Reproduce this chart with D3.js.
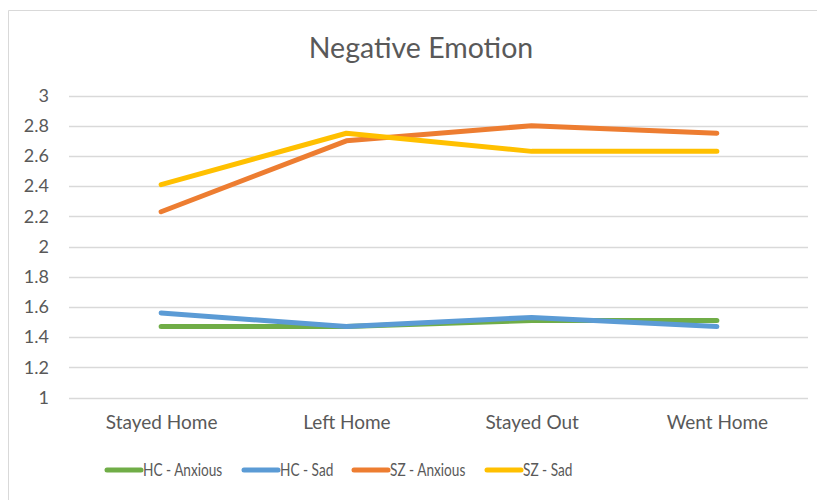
<!DOCTYPE html>
<html><head><meta charset="utf-8">
<script src="https://cdn.jsdelivr.net/npm/d3@7"></script>
<style>body{margin:0;background:#fff}svg{display:block}text{font-family:Lato,"Open Sans",sans-serif;fill:#595959}</style>
</head><body><svg id="c" width="817" height="500"></svg>
<script>
const categories = ["Stayed Home","Left Home","Stayed Out","Went Home"];
const seriesNames = ["HC - Anxious","HC - Sad","SZ - Anxious","SZ - Sad"];
const seriesColors = ["#70ad47","#5b9bd5","#ed7d31","#ffc000"];
const hcAnxious = [1.47,1.47,1.51,1.51];
const hcSad = [1.56,1.47,1.53,1.47];
const szAnxious = [2.23,2.70,2.80,2.75];
const szSad = [2.41,2.75,2.63,2.63];
const yTicks = [1,1.2,1.4,1.6,1.8,2,2.2,2.4,2.6,2.8,3];
const title = "Negative Emotion";

const seriesData = [hcAnxious,hcSad,szAnxious,szSad];
const svg = d3.select("#c");
svg.append("path").attr("d","M8.5,500V10.5H817").attr("fill","none").attr("stroke","#d9d9d9").attr("stroke-width",1);

const x = d3.scalePoint().domain(categories).range([68.5,809.5]).padding(0.5);
const y = d3.scaleLinear().domain([1,3]).range([397.5,95.5]);

svg.append("text").attr("x",421).attr("y",58).attr("text-anchor","middle").style("font-size","28.5px").text(title);

const g = svg.append("g");
g.selectAll("line.grid").data(yTicks).join("line").attr("class","grid")
 .attr("x1",69).attr("x2",808).attr("y1",d=>Math.round(y(d))+0.5).attr("y2",d=>Math.round(y(d))+0.5)
 .attr("stroke","#d9d9d9").attr("stroke-width",1.3);

const yAxis = d3.axisLeft(y).tickValues(yTicks).tickSize(0).tickPadding(0).tickFormat(d3.format("~g"));
const ya = svg.append("g").attr("transform","translate(49,0)").call(yAxis);
ya.select(".domain").remove();
ya.selectAll("text").style("font-size","18px").attr("fill","#595959").style("font-family","Lato,'Open Sans',sans-serif");

const xAxis = d3.axisBottom(x).tickSize(0).tickPadding(0);
const xa = svg.append("g").attr("transform","translate(0,415)").call(xAxis);
xa.select(".domain").remove();
xa.selectAll("text").style("font-size","19px").attr("fill","#595959").style("font-family","Lato,'Open Sans',sans-serif");

const line = d3.line().x((d,i)=>x(categories[i])).y(d=>y(d));
seriesData.forEach((s,k)=>{
  svg.append("path").attr("d",line(s)).attr("fill","none").attr("stroke",seriesColors[k])
    .attr("stroke-width",5).attr("stroke-linecap","round").attr("stroke-linejoin","round");
});

const legX = [106,243,353,486];
const lg = svg.append("g");
seriesNames.forEach((n,k)=>{
  lg.append("line").attr("x1",legX[k]+1).attr("x2",legX[k]+35).attr("y1",470).attr("y2",470)
    .attr("stroke",seriesColors[k]).attr("stroke-width",5).attr("stroke-linecap","round");
  lg.append("text").attr("x",legX[k]+37).attr("y",476).style("font-size","17.5px")
    .attr("transform",`translate(${legX[k]+37},0) scale(0.78,1) translate(${-(legX[k]+37)},0)`).text(n);
});
</script></body></html>
